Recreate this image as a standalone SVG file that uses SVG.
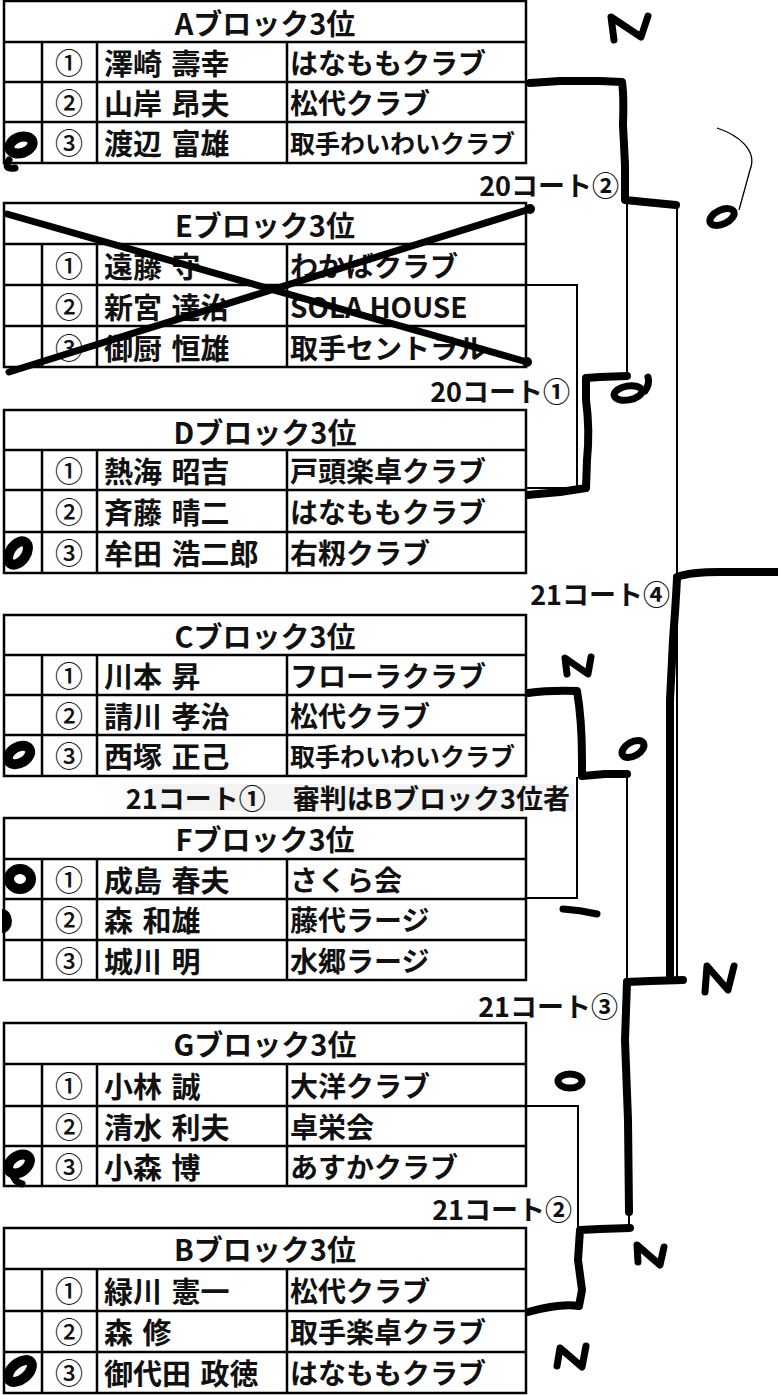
<svg xmlns="http://www.w3.org/2000/svg" width="778" height="1395" viewBox="0 0 778 1395">
<style>
.tb{fill:#fff;stroke:#000;stroke-width:2.5}
.ln{fill:none;stroke:#000;stroke-width:2.5}
.t{font-family:"Noto Sans CJK JP","Noto Sans CJK SC",sans-serif;font-size:29px;font-weight:700;fill:#111;dominant-baseline:central}
.mid{text-anchor:middle}
.num{font-size:28px;font-weight:500}
.nm{word-spacing:3px}
.club{font-size:28px}
.sm{font-size:25px}
.lbl{font-size:27px;text-anchor:end}
.thick{fill:none;stroke:#000;stroke-width:8;stroke-linecap:round;stroke-linejoin:round}
.thin{fill:none;stroke:#000;stroke-width:2}
.mark{fill:none;stroke:#000;stroke-width:10;stroke-linecap:round}
.mk2{fill:none;stroke:#000;stroke-width:7}
.pen{fill:none;stroke:#000;stroke-width:7;stroke-linecap:round;stroke-linejoin:round}
</style>

<g id="connectors">
  <path class="thin" d="M526 285H577V488H526"/>
  <path class="thin" d="M627 200V376"/>
  <path class="thin" d="M677 205V980"/>
  <path class="thin" d="M577 777V898H526"/>
  <path class="thin" d="M627 773V982"/>
  <path class="thin" d="M527 1106H578V1230"/>
  <path class="thin" d="M629 1212V1228"/>
  <path class="thick" d="M530 83L560 81L600 81L622 82Q624 95 623 125L625 165L625 200L645 202L676 205"/>
  <path class="thick" d="M627 376L600 377L586 378L586 400Q590 430 587 460L586 488L560 492L527 495"/>
  <path class="thick" d="M677 577Q690 572 720 572L778 572"/>
  <path class="thick" d="M677 578Q676 600 673 640L670 700L670 975"/>
  <path class="thick" d="M528 693Q550 690 577 691Q582 720 582 760L582 776L605 774L627 774"/>
  <path class="thick" d="M627 982L650 981L683 980"/>
  <path class="thick" d="M627 982L625 1040L628 1120L629 1212"/>
  <path class="thick" d="M630 1228L600 1229L580 1230L578 1260L582 1290L579 1306Q560 1303 528 1312"/>
</g>

<g id="label-20-2"><text class="t lbl" x="619" y="184">20コート②</text></g>
<g id="label-20-1"><text class="t lbl" x="570" y="390">20コート①</text></g>
<g id="label-21-4"><text class="t lbl" x="670" y="593">21コート④</text></g>
<g id="label-21-1"><rect x="150" y="784" width="424" height="27" fill="#f3f3f3"/><text class="t lbl" x="570" y="797">21コート①　審判はBブロック3位者</text></g>
<g id="label-21-3"><text class="t lbl" x="618" y="1005">21コート③</text></g>
<g id="label-21-2"><text class="t lbl" x="572" y="1208">21コート②</text></g>

<g id="blockA">
  <rect class="tb" x="4" y="1" width="522" height="162"/>
  <path class="ln" d="M4 42H526M4 82H526M4 122H526M42 42V163M97 42V163M287 42V163"/>
  <text class="t mid" x="265" y="22">Aブロック3位</text>
  <text class="t mid num" x="69" y="62">①</text><text class="t nm" x="104" y="62">澤崎 壽幸</text><text class="t club" x="290" y="62">はなももクラブ</text>
  <text class="t mid num" x="69" y="102">②</text><text class="t nm" x="104" y="102">山岸 昂夫</text><text class="t club" x="290" y="102">松代クラブ</text>
  <text class="t mid num" x="69" y="142">③</text><text class="t nm" x="104" y="142">渡辺 富雄</text><text class="t sm" x="290" y="142">取手わいわいクラブ</text>
</g>

<g id="blockE">
  <rect class="tb" x="4" y="203" width="522" height="164"/>
  <path class="ln" d="M4 244H526M4 285H526M4 326H526M42 244V367M97 244V367M287 244V367"/>
  <text class="t mid" x="265" y="224">Eブロック3位</text>
  <text class="t mid num" x="69" y="265">①</text><text class="t nm" x="104" y="265">遠藤 守</text><text class="t club" x="290" y="265">わかばクラブ</text>
  <text class="t mid num" x="69" y="306">②</text><text class="t nm" x="104" y="306">新宮 達治</text><text class="t club" x="290" y="306">SOLA HOUSE</text>
  <text class="t mid num" x="69" y="347">③</text><text class="t nm" x="104" y="347">御厨 恒雄</text><text class="t club" x="290" y="347">取手セントラル</text>
  <path class="pen" d="M7 214L527 362"/>
  <path class="pen" d="M9 372L530 209"/>
  <circle cx="527" cy="362" r="5"/><circle cx="530" cy="209" r="5"/>
</g>

<g id="blockD">
  <rect class="tb" x="4" y="410" width="522" height="163"/>
  <path class="ln" d="M4 450H526M4 490H526M4 532H526M42 450V573M97 450V573M287 450V573"/>
  <text class="t mid" x="265" y="431">Dブロック3位</text>
  <text class="t mid num" x="69" y="470">①</text><text class="t nm" x="104" y="470">熱海 昭吉</text><text class="t club" x="290" y="470">戸頭楽卓クラブ</text>
  <text class="t mid num" x="69" y="511">②</text><text class="t nm" x="104" y="511">斉藤 晴二</text><text class="t club" x="290" y="511">はなももクラブ</text>
  <text class="t mid num" x="69" y="552">③</text><text class="t nm" x="104" y="552">牟田 浩二郎</text><text class="t club" x="290" y="552">右籾クラブ</text>
</g>

<g id="blockC">
  <rect class="tb" x="4" y="615" width="522" height="161"/>
  <path class="ln" d="M4 655H526M4 695H526M4 735H526M42 655V776M97 655V776M287 655V776"/>
  <text class="t mid" x="265" y="635">Cブロック3位</text>
  <text class="t mid num" x="69" y="675">①</text><text class="t nm" x="104" y="675">川本 昇</text><text class="t club" x="290" y="675">フローラクラブ</text>
  <text class="t mid num" x="69" y="715">②</text><text class="t nm" x="104" y="715">請川 孝治</text><text class="t club" x="290" y="715">松代クラブ</text>
  <text class="t mid num" x="69" y="755">③</text><text class="t nm" x="104" y="755">西塚 正己</text><text class="t sm" x="290" y="755">取手わいわいクラブ</text>
</g>

<g id="blockF">
  <rect class="tb" x="4" y="818" width="522" height="162"/>
  <path class="ln" d="M4 859H526M4 899H526M4 940H526M42 859V980M97 859V980M287 859V980"/>
  <text class="t mid" x="265" y="838">Fブロック3位</text>
  <text class="t mid num" x="69" y="879">①</text><text class="t nm" x="104" y="879">成島 春夫</text><text class="t club" x="290" y="879">さくら会</text>
  <text class="t mid num" x="69" y="919">②</text><text class="t nm" x="104" y="919">森 和雄</text><text class="t club" x="290" y="919">藤代ラージ</text>
  <text class="t mid num" x="69" y="960">③</text><text class="t nm" x="104" y="960">城川 明</text><text class="t club" x="290" y="960">水郷ラージ</text>
</g>

<g id="blockG">
  <rect class="tb" x="4" y="1023" width="522" height="163"/>
  <path class="ln" d="M4 1064H526M4 1106H526M4 1146H526M42 1064V1186M97 1064V1186M287 1064V1186"/>
  <text class="t mid" x="265" y="1043">Gブロック3位</text>
  <text class="t mid num" x="69" y="1085">①</text><text class="t nm" x="104" y="1085">小林 誠</text><text class="t club" x="290" y="1085">大洋クラブ</text>
  <text class="t mid num" x="69" y="1126">②</text><text class="t nm" x="104" y="1126">清水 利夫</text><text class="t club" x="290" y="1126">卓栄会</text>
  <text class="t mid num" x="69" y="1166">③</text><text class="t nm" x="104" y="1166">小森 博</text><text class="t club" x="290" y="1166">あすかクラブ</text>
</g>

<g id="blockB">
  <rect class="tb" x="4" y="1228" width="522" height="165"/>
  <path class="ln" d="M4 1269H526M4 1311H526M4 1352H526M42 1269V1393M97 1269V1393M287 1269V1393"/>
  <text class="t mid" x="265" y="1248">Bブロック3位</text>
  <text class="t mid num" x="69" y="1290">①</text><text class="t nm" x="104" y="1290">緑川 憲一</text><text class="t club" x="290" y="1290">松代クラブ</text>
  <text class="t mid num" x="69" y="1331">②</text><text class="t nm" x="104" y="1331">森 修</text><text class="t club" x="290" y="1331">取手楽卓クラブ</text>
  <text class="t mid num" x="69" y="1372">③</text><text class="t nm" x="104" y="1372">御代田 政徳</text><text class="t club" x="290" y="1372">はなももクラブ</text>
</g>

<g id="handmarks">
  <ellipse class="mark" cx="21" cy="145" rx="12" ry="8" transform="rotate(-20 21 145)"/>
  <path class="pen" d="M9 160Q3 170 15 168"/>
  <ellipse class="mark" cx="18" cy="553" rx="13" ry="8" transform="rotate(-55 18 553)"/>
  <ellipse class="mark" cx="19" cy="755" rx="12" ry="8" transform="rotate(-30 19 755)"/>
  <ellipse class="mark" cx="20" cy="879" rx="11" ry="10"/>
  <path d="M2 909A10 12 0 0 1 2 933Z" fill="#000"/>
  <ellipse class="mark" cx="19" cy="1164" rx="12" ry="8" transform="rotate(-35 19 1164)"/>
  <path class="pen" d="M12 1172Q14 1182 22 1184"/>
  <ellipse class="mark" cx="20" cy="1371" rx="14" ry="8" transform="rotate(-40 20 1371)"/>
  <ellipse class="mk2" cx="722" cy="217" rx="13" ry="7" transform="rotate(-25 722 217)"/>
  <path fill="none" stroke="#000" stroke-width="1.3" d="M717 128C738 135 758 150 750 170L739 210"/>
  <ellipse class="mk2" cx="628" cy="393" rx="14" ry="7" transform="rotate(-10 628 393)"/>
  <path class="pen" d="M645 391Q650 384 648 377"/>
  <ellipse class="mk2" cx="633" cy="749" rx="12" ry="7" transform="rotate(-30 633 749)"/>
  <ellipse class="mk2" cx="570" cy="1081" rx="12" ry="7"/>
  <path class="pen" d="M614 40L611 17L641 37L648 16"/>
  <path class="pen" d="M567 674L565 658L588 674L591 657"/>
  <path class="pen" d="M705 992L707 966L728 990L734 966"/>
  <path class="pen" d="M638 1262L637 1245L660 1265L664 1247"/>
  <path class="pen" d="M557 1366L560 1348L582 1367L586 1346"/>
  <path class="pen" d="M563 909Q580 910 597 914"/>
</g>
</svg>
